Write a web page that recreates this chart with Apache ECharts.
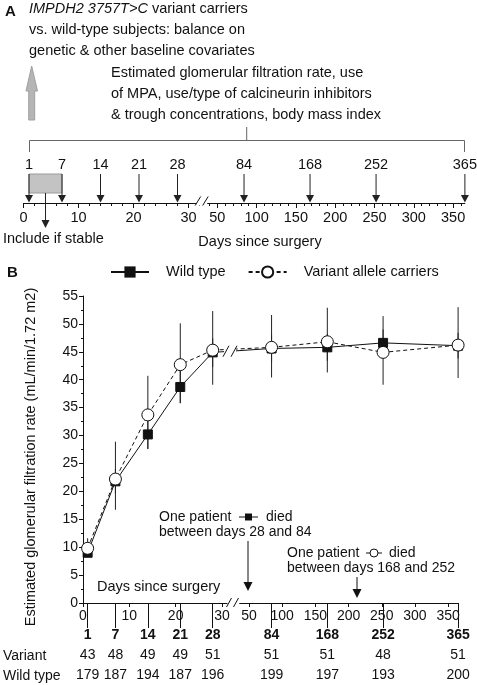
<!DOCTYPE html>
<html><head><meta charset="utf-8">
<script src="https://cdn.jsdelivr.net/npm/echarts@6/dist/echarts.min.js"></script>
<style>html,body{margin:0;padding:0;background:#fff}#c{width:477px;height:685px}</style>
</head><body><div id="c"></div>
<script>
const FONT = '"Liberation Sans", Arial, Helvetica, sans-serif';
const INK = '#111';

// ---------- Panel A: study timeline ----------
const visitDaysEarly = [1, 7, 14, 21, 28];
const visitDaysLate = [84, 168, 252, 365];
const inclusionWindow = [1, 7];
const timelineTicksEarly = [0, 10, 20, 30];
const timelineMinorEarly = [2, 4, 6, 8, 12, 14, 16, 18, 22, 24, 26, 28, 32];
const timelineTicksLate = [50, 100, 150, 200, 250, 300, 350];
const timelineMinorLate = [40, 60, 70, 80, 90, 110, 120, 130, 140, 160, 170, 180, 190, 210, 220, 230, 240, 260, 270, 280, 290, 310, 320, 330, 340, 360];

// ---------- Panel B: eGFR by visit ----------
const days = [1, 7, 14, 21, 28, 84, 168, 252, 365];
const wildType = [9.0, 21.8, 30.2, 38.7, 44.9, 45.6, 45.8, 46.6, 46.1];
const wildLow  = [8.3, 19.6, 27.6, 35.8, 42.3, 43.2, 43.4, 44.2, 43.8];
const wildHigh = [9.8, 24.0, 32.6, 41.6, 47.4, 48.0, 48.2, 49.0, 48.4];
const variant = [9.8, 22.2, 33.7, 42.7, 45.3, 45.8, 46.8, 44.9, 46.2];
const variantLow  = [9.0, 16.7, 27.6, 35.8, 39.1, 40.4, 41.3, 39.1, 40.3];
const variantHigh = [11.6, 28.9, 40.7, 50.1, 52.3, 51.6, 52.9, 51.4, 53.0];
const nVariant = [43, 48, 49, 49, 51, 51, 51, 48, 51];
const nWild = [179, 187, 194, 187, 196, 199, 197, 193, 200];
const dayTicksEarly = [0, 10, 20, 30];
const dayTicksLate = [50, 100, 150, 200, 250, 300, 350];
const yTicks = [0, 55, 5];

const EARLY_MAX = 31.5;
const earlyIdx = days.map((d, i) => i).filter(i => days[i] <= EARLY_MAX);
const lateIdx = days.map((d, i) => i).filter(i => days[i] > EARLY_MAX);

const FA = 14.5; // panel A text size

const chart = echarts.init(document.getElementById('c'), null, {renderer: 'canvas', width: 477, height: 685});

function txt(extra) {
  return Object.assign({fontSize: 14, fontFamily: FONT, fill: INK}, extra);
}

function arrowItem(params, api) {
  const p = api.coord([api.value(0), 0]);
  const x = p[0], yb = p[1];
  return {type: 'group', children: [
    {type: 'text', style: txt({text: String(api.value(0)), x: x, y: yb - 38, align: 'center', verticalAlign: 'middle', fontSize: FA})},
    {type: 'line', shape: {x1: x, y1: yb - 29, x2: x, y2: yb - 6}, style: {stroke: '#222', lineWidth: 1}},
    {type: 'polygon', shape: {points: [[x - 4, yb - 8], [x + 4, yb - 8], [x, yb - 0.5]]}, style: {fill: '#222'}}
  ]};
}

function boxItem(params, api) {
  const a = api.coord([api.value(0), 0]);
  const b = api.coord([api.value(2), 0]);
  const yb = a[1];
  const cx = (a[0] + b[0]) / 2;
  return {type: 'group', children: [
    {type: 'rect', shape: {x: a[0], y: yb - 29, width: b[0] - a[0], height: 19}, style: {fill: '#c3c3c3', stroke: '#9a9a9a', lineWidth: 1}},
    {type: 'line', shape: {x1: cx, y1: yb - 10, x2: cx, y2: yb + 19}, style: {stroke: '#222', lineWidth: 1}},
    {type: 'polygon', shape: {points: [[cx - 4, yb + 17], [cx + 4, yb + 17], [cx, yb + 25]]}, style: {fill: '#222'}}
  ]};
}

function errItem(params, api) {
  const top = api.coord([api.value(0), api.value(2)]);
  const bot = api.coord([api.value(0), api.value(1)]);
  return {type: 'line', shape: {x1: top[0], y1: top[1], x2: bot[0], y2: bot[1]}, style: {stroke: '#222', lineWidth: 1}};
}

function visitLabel(v) {
  const i = days.indexOf(v);
  return '{b|' + v + '}\n{n|' + nVariant[i] + '}\n{n|' + nWild[i] + '}';
}

const axisLineStyle = {lineStyle: {color: INK, width: 1}};
const labelStyle = {color: INK, fontSize: 14, fontFamily: FONT};
const labelStyleA = {color: INK, fontSize: FA, fontFamily: FONT};

function hiddenY(grid, max) {
  return {type: 'value', gridIndex: grid, min: 0, max: max, show: false, splitLine: {show: false}};
}

const visitRich = {b: {fontWeight: 'bold', fontSize: 14, lineHeight: 20, fontFamily: FONT, color: INK},
                   n: {fontSize: 14, lineHeight: 20, fontFamily: FONT, color: INK}};

const xAxes = [
  // 0: panel A early, majors
  {type: 'value', gridIndex: 0, position: 'bottom', min: 0, max: 32, axisLine: axisLineStyle, splitLine: {show: false},
   axisTick: {customValues: timelineTicksEarly, length: 5, lineStyle: {color: INK}},
   axisLabel: Object.assign({customValues: timelineTicksEarly, margin: 7}, labelStyleA)},
  // 1: panel A early, minor ticks
  {type: 'value', gridIndex: 0, position: 'bottom', min: 0, max: 32, axisLine: {show: false}, splitLine: {show: false},
   axisTick: {customValues: timelineMinorEarly, length: 3, lineStyle: {color: INK}}, axisLabel: {show: false}},
  // 2: panel A late, majors
  {type: 'value', gridIndex: 1, position: 'bottom', min: 35, max: 365, axisLine: axisLineStyle, splitLine: {show: false},
   axisTick: {customValues: timelineTicksLate, length: 5, lineStyle: {color: INK}},
   axisLabel: Object.assign({customValues: timelineTicksLate, margin: 7}, labelStyleA)},
  // 3: panel A late, minor ticks
  {type: 'value', gridIndex: 1, position: 'bottom', min: 35, max: 365, axisLine: {show: false}, splitLine: {show: false},
   axisTick: {customValues: timelineMinorLate, length: 3, lineStyle: {color: INK}}, axisLabel: {show: false}},
  // 4: panel B early, day scale
  {type: 'value', gridIndex: 2, position: 'bottom', min: 0, max: EARLY_MAX, axisLine: axisLineStyle, splitLine: {show: false},
   axisTick: {customValues: dayTicksEarly, length: 4, lineStyle: {color: INK}},
   axisLabel: Object.assign({customValues: dayTicksEarly, margin: 6}, labelStyle)},
  // 5: panel B early, visits + counts
  {type: 'value', gridIndex: 2, position: 'bottom', min: 0, max: EARLY_MAX, axisLine: {show: false}, splitLine: {show: false},
   axisTick: {customValues: visitDaysEarly, length: 25, lineStyle: {color: INK}},
   axisLabel: {customValues: visitDaysEarly, margin: 22, formatter: visitLabel, color: INK, rich: visitRich}},
  // 6: panel B late, day scale
  {type: 'value', gridIndex: 3, position: 'bottom', min: 36, max: 365, axisLine: axisLineStyle, splitLine: {show: false},
   axisTick: {customValues: dayTicksLate, length: 4, lineStyle: {color: INK}},
   axisLabel: Object.assign({customValues: dayTicksLate, margin: 6}, labelStyle)},
  // 7: panel B late, visits + counts
  {type: 'value', gridIndex: 3, position: 'bottom', min: 36, max: 365, axisLine: {show: false}, splitLine: {show: false},
   axisTick: {customValues: visitDaysLate, length: 25, lineStyle: {color: INK}},
   axisLabel: {customValues: visitDaysLate, margin: 22, formatter: visitLabel, color: INK, rich: visitRich}}
];

const yAxes = [
  hiddenY(0, 1),
  hiddenY(1, 1),
  {type: 'value', gridIndex: 2, min: yTicks[0], max: yTicks[1], interval: yTicks[2],
   axisLine: {show: true, lineStyle: {color: INK}}, splitLine: {show: false},
   axisTick: {show: true, length: 4, lineStyle: {color: INK}},
   minorTick: {show: true, splitNumber: 2, length: 2, lineStyle: {color: INK}},
   axisLabel: Object.assign({margin: 5}, labelStyle)},
  hiddenY(3, 55)
];

function errData(idx, lo, hi) { return idx.map(i => [days[i], lo[i], hi[i]]); }
function lineData(idx, v) { return idx.map(i => [days[i], v[i]]); }

const wildStyle = {
  type: 'line', name: 'Wild type', symbol: 'rect', symbolSize: 9, z: 3,
  itemStyle: {color: '#111', borderColor: '#111'},
  lineStyle: {color: '#111', width: 1, type: 'solid'}, silent: true
};
const varStyle = {
  type: 'line', name: 'Variant allele carriers', symbol: 'circle', symbolSize: 12, z: 4,
  itemStyle: {color: '#fff', borderColor: '#111', borderWidth: 1},
  lineStyle: {color: '#111', width: 1, type: [4, 3]}, silent: true
};

const series = [
  {type: 'custom', xAxisIndex: 0, yAxisIndex: 0, data: [[inclusionWindow[0], 0, inclusionWindow[1]]], encode: {x: 0, y: 1}, renderItem: boxItem, z: 2, silent: true},
  {type: 'custom', xAxisIndex: 0, yAxisIndex: 0, data: visitDaysEarly.map(d => [d, 0]), renderItem: arrowItem, z: 3, silent: true},
  {type: 'custom', xAxisIndex: 2, yAxisIndex: 1, data: visitDaysLate.map(d => [d, 0]), renderItem: arrowItem, z: 3, silent: true},
  {type: 'custom', xAxisIndex: 4, yAxisIndex: 2, data: errData(earlyIdx, variantLow, variantHigh), encode: {x: 0, y: [1, 2]}, renderItem: errItem, z: 1, silent: true},
  {type: 'custom', xAxisIndex: 4, yAxisIndex: 2, data: errData(earlyIdx, wildLow, wildHigh), encode: {x: 0, y: [1, 2]}, renderItem: errItem, z: 1, silent: true},
  {type: 'custom', xAxisIndex: 6, yAxisIndex: 3, data: errData(lateIdx, variantLow, variantHigh), encode: {x: 0, y: [1, 2]}, renderItem: errItem, z: 1, silent: true},
  {type: 'custom', xAxisIndex: 6, yAxisIndex: 3, data: errData(lateIdx, wildLow, wildHigh), encode: {x: 0, y: [1, 2]}, renderItem: errItem, z: 1, silent: true},
  Object.assign({xAxisIndex: 4, yAxisIndex: 2, data: lineData(earlyIdx, wildType)}, wildStyle),   // 7
  Object.assign({xAxisIndex: 4, yAxisIndex: 2, data: lineData(earlyIdx, variant)}, varStyle),     // 8
  Object.assign({xAxisIndex: 6, yAxisIndex: 3, data: lineData(lateIdx, wildType)}, wildStyle),    // 9
  Object.assign({xAxisIndex: 6, yAxisIndex: 3, data: lineData(lateIdx, variant)}, varStyle)       // 10
];

chart.setOption({
  animation: false,
  backgroundColor: '#fff',
  textStyle: {fontFamily: FONT},
  grid: [
    {left: 23.5, top: 150, width: 176, height: 53},
    {left: 205.5, top: 150, width: 259.4, height: 53},
    {left: 83, top: 296, width: 145.9, height: 307},
    {left: 239.7, top: 296, width: 218.4, height: 307}
  ],
  xAxis: xAxes,
  yAxis: yAxes,
  legend: {
    data: ['Wild type', 'Variant allele carriers'],
    left: 110, top: 264.5, padding: 0, itemWidth: 38, itemHeight: 14, itemGap: 22,
    textStyle: {fontSize: 14.5, fontFamily: FONT, color: INK, padding: [0, 0, 0, 12]},
    selectedMode: false
  },
  series: series
});

// ---------- annotations & cross-break segments ----------
function toPx(seriesIndex, pt) { return chart.convertToPixel({seriesIndex: seriesIndex}, pt); }
const lastE = earlyIdx[earlyIdx.length - 1], firstL = lateIdx[0];
const w0 = toPx(7, [days[lastE], wildType[lastE]]), w1 = toPx(9, [days[firstL], wildType[firstL]]);
const v0 = toPx(8, [days[lastE], variant[lastE]]), v1 = toPx(10, [days[firstL], variant[firstL]]);
const brkX = 230;
const brkY = w0[1] + (w1[1] - w0[1]) * (brkX - w0[0]) / (w1[0] - w0[0]);

function breakMark(cx, cy, h, w, z) {
  return [
    {type: 'rect', z: z, shape: {x: cx - w / 2 + 1, y: cy - h / 2, width: w - 2, height: h}, style: {fill: '#fff'}},
    {type: 'line', z: z, shape: {x1: cx - w / 2, y1: cy + h / 2, x2: cx - 1, y2: cy - h / 2}, style: {stroke: INK, lineWidth: 1}},
    {type: 'line', z: z, shape: {x1: cx + 1, y1: cy + h / 2, x2: cx + w / 2, y2: cy - h / 2}, style: {stroke: INK, lineWidth: 1}}
  ];
}

function T(x, y, text, extra) {
  return {type: 'text', x: x, y: y, z: 10, style: txt(Object.assign({text: text, verticalAlign: 'middle'}, extra || {}))};
}
function downArrow(x, y1, y2) {
  return [
    {type: 'line', z: 10, shape: {x1: x, y1: y1, x2: x, y2: y2 - 6}, style: {stroke: INK, lineWidth: 1}},
    {type: 'polygon', z: 10, shape: {points: [[x - 4.5, y2 - 9], [x + 4.5, y2 - 9], [x, y2]]}, style: {fill: INK}}
  ];
}

const graphics = [
  // panel labels
  T(5, 12, 'A', {fontWeight: 'bold', fontSize: 15}),
  T(7, 273, 'B', {fontWeight: 'bold', fontSize: 15}),
  // panel A heading text
  {type: 'text', x: 29, y: 9, z: 10, style: txt({text: '{i|IMPDH2 3757T>C} variant carriers', verticalAlign: 'middle', fontSize: FA,
     rich: {i: {fontStyle: 'italic', fontSize: FA, fontFamily: FONT, fill: INK}}})},
  T(29, 30, 'vs. wild-type subjects: balance on', {fontSize: FA}),
  T(29, 51, 'genetic & other baseline covariates', {fontSize: FA}),
  T(111, 73, 'Estimated glomerular filtration rate, use', {fontSize: FA}),
  T(111, 94, 'of MPA, use/type of calcineurin inhibitors', {fontSize: FA}),
  T(111, 115, '& trough concentrations, body mass index', {fontSize: FA}),
  // grey up arrow
  {type: 'polygon', z: 10, shape: {points: [[31.7, 66], [37.5, 91], [34.7, 91], [34.7, 120], [28.7, 120], [28.7, 91], [26, 91]]},
   style: {fill: '#b5b5b5', stroke: '#a0a0a0', lineWidth: 1}},
  // bracket
  {type: 'polyline', z: 10, shape: {points: [[29.5, 152], [29.5, 140.5], [464.5, 140.5], [464.5, 152]]}, style: {stroke: '#666', lineWidth: 1, fill: null}},
  {type: 'line', z: 10, shape: {x1: 246.7, y1: 127, x2: 246.7, y2: 140.5}, style: {stroke: '#666', lineWidth: 1}},
  T(3, 239, 'Include if stable', {fontSize: FA}),
  T(260, 242, 'Days since surgery', {align: 'center', fontSize: FA}),
  // panel B texts
  T(97, 587, 'Days since surgery', {fontSize: FA}),
  {type: 'text', x: 31, y: 457, z: 10, rotation: Math.PI / 2,
   style: txt({text: 'Estimated glomerular filtration rate (mL/min/1.72 m2)', align: 'center', verticalAlign: 'middle', fontSize: FA})},
  T(3, 656, 'Variant'),
  T(3, 676, 'Wild type'),
  // annotation 1
  T(159, 517, 'One patient'),
  {type: 'line', z: 10, shape: {x1: 239, y1: 517, x2: 258, y2: 517}, style: {stroke: INK, lineWidth: 1}},
  {type: 'rect', z: 10, shape: {x: 245, y: 513.5, width: 7, height: 7}, style: {fill: INK}},
  T(266, 517, 'died'),
  T(159, 532, 'between days 28 and 84'),
  ...downArrow(248, 541, 591),
  // annotation 2
  T(287, 553, 'One patient'),
  {type: 'line', z: 10, shape: {x1: 366, y1: 553, x2: 382, y2: 553}, style: {stroke: INK, lineWidth: 1}},
  {type: 'circle', z: 10, shape: {cx: 374, cy: 553, r: 4}, style: {fill: '#fff', stroke: INK, lineWidth: 1}},
  T(389, 553, 'died'),
  T(287, 568, 'between days 168 and 252'),
  ...downArrow(357, 577, 598),
  // cross-break data segments
  {type: 'line', z: 1, shape: {x1: w0[0], y1: w0[1], x2: w1[0], y2: w1[1]}, style: {stroke: INK, lineWidth: 1}},
  {type: 'line', z: 1, shape: {x1: v0[0], y1: v0[1], x2: v1[0], y2: v1[1]}, style: {stroke: INK, lineWidth: 1, lineDash: [4, 3]}},
  ...breakMark(brkX, brkY, 11, 14, 5),
  ...breakMark(232.5, 602.5, 9, 12, 5),
  ...breakMark(201.7, 201, 9, 13, 5)
];

chart.setOption({graphic: graphics});
</script>
</body></html>
